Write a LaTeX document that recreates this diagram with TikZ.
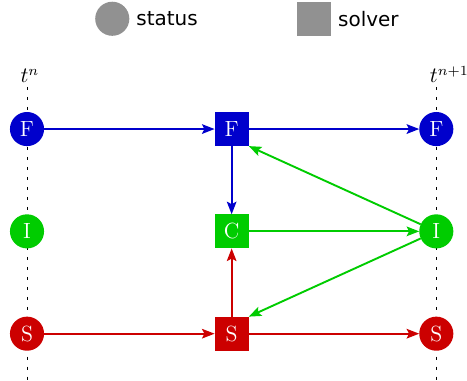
\documentclass[tikz,border=0pt]{standalone}
\usepackage{fontspec}
\newfontfamily\legendfont{DejaVu Sans}
\usetikzlibrary{arrows.meta}
\definecolor{fblue}{RGB}{0,0,204}
\definecolor{igreen}{RGB}{0,204,0}
\definecolor{sred}{RGB}{204,0,0}
\definecolor{keygray}{RGB}{145,145,145}

\begin{document}
\begin{tikzpicture}[status/.style = {circle,fill=#1,text=white,minimum size=0.6cm,inner sep=0pt,outer sep=0mm,font=\fontsize{11}{13}\selectfont},
                    solver/.style = {rectangle,fill=#1,text=white,minimum size=0.6cm,inner sep=0pt,outer sep=0mm,font=\fontsize{11}{13}\selectfont},
                    flow/.style = {draw=#1,line width=0.95pt,-{Stealth[length=6.3pt,width=4.8pt,inset=1.2pt]}},
                    timeline/.style = {draw=black,thin,dash pattern=on 1.7pt off 3.3pt}]
\useasboundingbox (-0.475,-4.42) rectangle (7.74,2.27);
% legend
\node[status=keygray] (statuskey) at (1.5,1.94) {};
\node[anchor=west,font=\legendfont] (statustext) at (statuskey.east) {status};
\node[solver=keygray] (solverkey) at (5.05,1.94) {};
\node[anchor=west,font=\legendfont] (solvertext) at (solverkey.east) {solver};
% time levels
\node[anchor=base west,inner sep=0pt,font=\fontsize{10.5}{12}\selectfont] (tn) at (-0.12,0.81) {$t^n$};
\node[anchor=base west,inner sep=0pt,font=\fontsize{10.5}{12}\selectfont] (tnn) at (7.08,0.81) {$t^{n+1}$};
\coordinate (tntop) at (0,0.74);
\coordinate (tnbot) at (0,-4.42);
\coordinate (tnntop) at (7.2,0.74);
\coordinate (tnnbot) at (7.2,-4.42);
\draw[timeline] (tntop) -- (tnbot);
\draw[timeline] (tnntop) -- (tnnbot);
% status nodes
\foreach \name/\lbl/\col/\y in {f/F/fblue/0, i/I/igreen/-1.8, s/S/sred/-3.6} {
    \node[status=\col] (\name old) at (0,  \y) {\lbl};
    \node[status=\col] (\name new) at (7.2,\y) {\lbl};
}
% solver nodes
\node[solver=fblue]  (fsolve) at (3.6, 0)   {F};
\node[solver=igreen] (csolve) at (3.6,-1.8) {C};
\node[solver=sred]   (ssolve) at (3.6,-3.6) {S};
% connectors
\draw[flow=fblue] (fold) -- (fsolve);
\draw[flow=fblue] (fsolve) -- (fnew);
\draw[flow=fblue] (fsolve) -- (csolve);
\draw[flow=igreen] (inew) -- (fsolve.south east);
\draw[flow=igreen] (csolve) -- (inew);
\draw[flow=igreen] (inew) -- (ssolve.north east);
\draw[flow=sred] (sold) -- (ssolve);
\draw[flow=sred] (ssolve) -- (snew);
\draw[flow=sred] (ssolve) -- (csolve);
\end{tikzpicture}
\end{document}
